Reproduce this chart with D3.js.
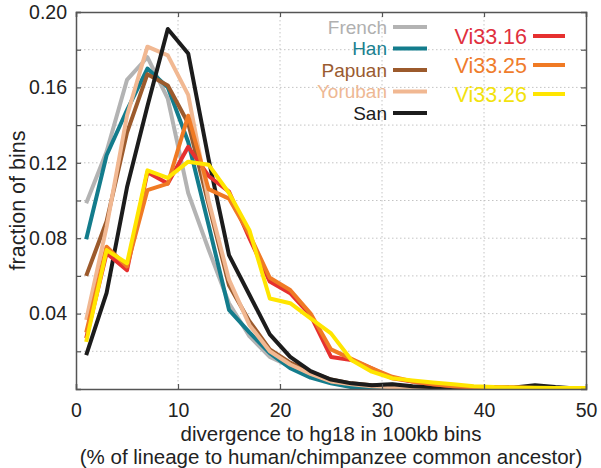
<!DOCTYPE html>
<html>
<head>
<meta charset="utf-8">
<script src="https://cdn.jsdelivr.net/npm/d3@7"></script>
<style>
  body { margin: 0; background: #fff; }
  text { font-family: "Liberation Sans", Arial, Helvetica, sans-serif; }
</style>
</head>
<body>
<div id="plot"></div>
<script>
// bin centres (% divergence)
var bins = [1,3,5,7,9,11,13,15,17,19,21,23,25,27,29,31,33,35,37,39,41,43,45,47,49,51];

var french  = [0.0985,0.126,0.164,0.176,0.154,0.104,0.074,0.0455,0.028,0.017,0.012,0.0074,0.004,0.0015,0.002,0.0025,0.001,0.0005,0.0003,0.0002,0.0001,0.0001,0.0001,0,0,0];
var han     = [0.0794,0.124,0.148,0.170,0.160,0.131,0.087,0.042,0.030,0.019,0.011,0.006,0.003,0.001,0.0008,0.0015,0.0008,0.0003,0.0002,0.0001,0.0001,0.0001,0,0,0,0];
var papuan  = [0.060,0.089,0.136,0.167,0.161,0.141,0.098,0.055,0.036,0.021,0.014,0.009,0.005,0.003,0.002,0.0015,0.001,0.0006,0.0004,0.0003,0.0002,0.0002,0.0001,0.0001,0,0];
var yoruban = [0.0366,0.086,0.145,0.1816,0.177,0.156,0.100,0.058,0.034,0.020,0.013,0.008,0.004,0.0025,0.0015,0.001,0.0008,0.0005,0.0003,0.0002,0.0001,0.0001,0.0001,0,0,0];
var san     = [0.018,0.051,0.107,0.150,0.191,0.178,0.122,0.071,0.050,0.029,0.017,0.0095,0.005,0.003,0.002,0.0025,0.0015,0.001,0.0008,0.0005,0.0005,0.0008,0.002,0.001,0.0003,0];
var vi3316  = [0.027,0.072,0.063,0.115,0.109,0.1285,0.113,0.1047,0.080,0.057,0.0508,0.039,0.017,0.0154,0.011,0.0057,0.004,0.0025,0.0015,0.001,0.001,0.0008,0.0005,0.0003,0.0002,0.0002];
var vi3325  = [0.030,0.0755,0.065,0.1055,0.109,0.145,0.106,0.101,0.082,0.059,0.0525,0.040,0.021,0.016,0.011,0.0065,0.004,0.0025,0.0015,0.001,0.0008,0.0006,0.0004,0.0003,0.0002,0.0002];
var vi3326  = [0.025,0.0737,0.0667,0.116,0.112,0.1206,0.119,0.104,0.0843,0.048,0.0455,0.0375,0.0295,0.0154,0.0092,0.0057,0.0045,0.0035,0.0025,0.0015,0.001,0.0008,0.0006,0.0005,0.0005,0.0005];

var modernNames = ["French","Han","Papuan","Yoruban","San"];
var modernValues = [french, han, papuan, yoruban, san];
var modernColors = ["#b3b3b3","#137c8c","#9c5a2c","#f1b892","#1c1c1c"];
var modernText   = ["#b0b0b0","#1a808f","#9a5b30","#eeb894","#1c1c1c"];

var neanNames = ["Vi33.16","Vi33.25","Vi33.26"];
var neanValues = [vi3316, vi3325, vi3326];
var neanColors = ["#e6302f","#f07a24","#ffe500"];
var neanText   = ["#e0303e","#ef7c2c","#f2e20e"];

var xTicks = [0,10,20,30,40,50];
var yTicks = [0.04,0.08,0.12,0.16,0.20];

//Setting the dimensions and margins of the graph
var margin = {top: 12, right: 15, bottom: 79, left: 76},
    width = 601 - margin.left - margin.right,
    height = 468 - margin.top - margin.bottom;

var svg = d3.select("#plot")
    .append("svg")
    .attr("width", 601)
    .attr("height", 468)
    .append("g")
    .attr("transform", "translate(" + margin.left + "," + margin.top + ")");

var x = d3.scaleLinear().domain([0, 50]).range([0, width]);
var y = d3.scaleLinear().domain([0, 0.2]).range([height, 0]);

var minorY = d3.range(0.02, 0.2, 0.02);

// dotted grid
svg.append("g").selectAll("line.gy")
    .data(minorY)
    .enter().append("line")
    .attr("x1", 0).attr("x2", width)
    .attr("y1", function(d) { return y(d); })
    .attr("y2", function(d) { return y(d); })
    .attr("stroke", "#c4c4c4")
    .attr("stroke-dasharray", "1.5,2.5");
svg.append("g").selectAll("line.gx")
    .data(xTicks.slice(1, -1))
    .enter().append("line")
    .attr("y1", 0).attr("y2", height)
    .attr("x1", function(d) { return x(d); })
    .attr("x2", function(d) { return x(d); })
    .attr("stroke", "#c4c4c4")
    .attr("stroke-dasharray", "1.5,2.5");

// lines
svg.append("clipPath").attr("id", "clip")
    .append("rect").attr("width", width).attr("height", height + 3).attr("y", -3);

var line = d3.line()
    .x(function(d, i) { return x(bins[i]); })
    .y(function(d) { return y(d); });

var allValues = modernValues.concat(neanValues);
var allColors = modernColors.concat(neanColors);

svg.append("g")
    .attr("clip-path", "url(#clip)")
    .selectAll("path")
    .data(allValues)
    .enter().append("path")
    .attr("fill", "none")
    .attr("stroke", function(d, i) { return allColors[i]; })
    .attr("stroke-width", 4)
    .attr("stroke-linejoin", "round")
    .attr("d", line);

// axes with inward ticks
var axisColor = "#555";
svg.append("g")
    .attr("transform", "translate(0," + height + ")")
    .call(d3.axisBottom(x).tickValues(xTicks).tickSize(-5).tickPadding(14).tickFormat(d3.format("d")));
svg.append("g")
    .call(d3.axisTop(x).tickValues(xTicks).tickSize(-5).tickFormat(""));
svg.append("g")
    .call(d3.axisLeft(y).tickValues(minorY.concat([0.2])).tickSize(-5).tickPadding(9)
        .tickFormat(function(d) {
            var r = Math.round(d * 100) / 100;
            return (Math.round(r * 100) % 4 == 0) ? r.toFixed(2) : "";
        }));
svg.append("g")
    .attr("transform", "translate(" + width + ",0)")
    .call(d3.axisRight(y).tickValues(minorY).tickSize(-5).tickFormat(""));

svg.selectAll(".domain").attr("stroke", axisColor).attr("stroke-width", 1.5);
svg.selectAll(".tick line").attr("stroke", axisColor).attr("stroke-width", 1.2);
svg.selectAll(".tick text")
    .attr("fill", "#222")
    .style("font-size", "19.5px");

// axis titles
svg.append("text")
    .attr("transform", "rotate(-90)")
    .attr("x", -height / 2)
    .attr("y", 25 - margin.left)
    .style("text-anchor", "middle")
    .style("font-size", "21.5px")
    .attr("fill", "#222")
    .text("fraction of bins");

svg.append("text")
    .attr("x", width / 2)
    .attr("y", height + 52)
    .style("text-anchor", "middle")
    .style("font-size", "20.5px")
    .attr("fill", "#222")
    .text("divergence to hg18 in 100kb bins");
svg.append("text")
    .attr("x", width / 2)
    .attr("y", height + 75)
    .style("text-anchor", "middle")
    .style("font-size", "20.5px")
    .attr("fill", "#222")
    .text("(% of lineage to human/chimpanzee common ancestor)");

// legends (page coordinates)
var leg = d3.select("svg").append("g");
modernNames.forEach(function(name, i) {
    var cy = 27 + i * 21.5;
    leg.append("text")
        .attr("x", 387).attr("y", cy + 6.5)
        .attr("text-anchor", "end")
        .style("font-size", "19px")
        .attr("fill", modernText[i])
        .text(name);
    leg.append("line")
        .attr("x1", 393).attr("x2", 427)
        .attr("y1", cy).attr("y2", cy)
        .attr("stroke", modernColors[i]).attr("stroke-width", 4);
});
neanNames.forEach(function(name, i) {
    var cy = 36 + i * 29;
    leg.append("text")
        .attr("x", 527).attr("y", cy + 7.5)
        .attr("text-anchor", "end")
        .style("font-size", "21.5px")
        .attr("fill", neanText[i])
        .text(name);
    leg.append("line")
        .attr("x1", 533).attr("x2", 565)
        .attr("y1", cy).attr("y2", cy)
        .attr("stroke", neanColors[i]).attr("stroke-width", 4);
});
</script>
</body>
</html>
